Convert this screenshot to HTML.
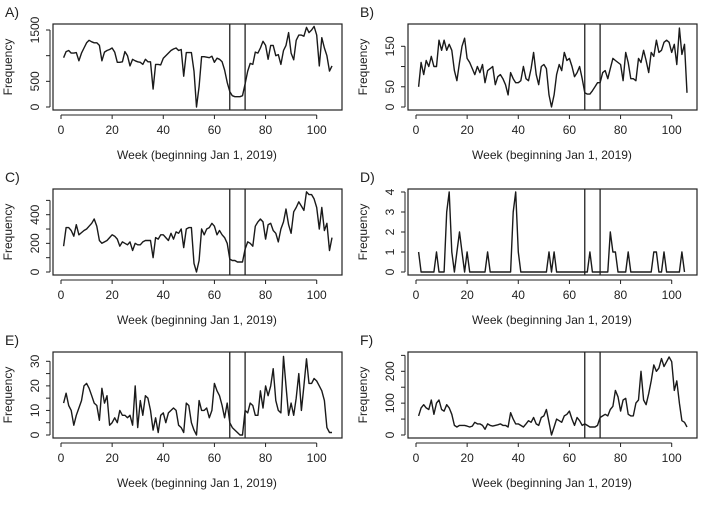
<!DOCTYPE html>
<html><head><meta charset="utf-8"><style>
body{margin:0;background:#fff}
svg{display:block;font-family:"Liberation Sans",Arial,sans-serif}
</style></head><body>
<svg id="chart" width="711" height="506" viewBox="0 0 711 506" xmlns="http://www.w3.org/2000/svg"></svg>
<script>
const weeks = Array.from({length:106},(_,i)=>i+1);
const seriesA=[960,1080,1100,1050,1050,1060,900,1050,1150,1250,1300,1270,1250,1250,1200,900,1070,1100,1120,1150,1070,870,870,880,1080,1000,800,930,900,880,870,830,930,880,880,350,830,830,820,950,1000,1050,1100,1130,1150,1100,1120,600,1060,1060,1060,700,0,400,980,980,970,960,990,870,950,930,880,720,480,300,220,200,200,200,220,450,700,850,830,1070,1050,1150,1280,1200,930,1200,1200,1000,1020,830,1100,1200,1450,1050,920,1300,1400,1400,1380,1550,1450,1500,1570,1400,800,1350,1150,1000,700,800];
const seriesB=[50,110,80,115,100,125,100,100,165,140,165,140,155,140,90,65,110,150,170,120,110,95,80,100,85,105,60,90,95,100,55,75,80,70,55,30,85,70,60,60,65,100,70,65,95,135,80,55,100,105,95,30,0,30,80,105,90,135,115,120,100,75,85,100,70,35,32,32,40,50,60,60,85,90,70,95,120,115,110,105,65,135,110,70,70,65,120,110,140,115,85,135,125,165,135,140,160,165,160,135,155,105,195,130,155,35,65].slice(0,106);
const seriesC=[180,310,310,290,250,330,260,275,290,300,320,340,370,320,220,200,210,220,240,260,250,230,180,210,200,190,210,150,200,190,190,210,220,220,220,100,240,230,260,260,240,220,270,230,280,270,300,170,300,310,310,60,0,80,300,260,300,310,340,320,260,290,260,240,200,90,80,80,70,70,70,160,210,200,180,320,350,370,350,230,330,340,290,270,210,300,350,440,330,270,420,450,490,460,430,560,540,540,510,450,300,450,290,340,150,240];
const seriesD=[1,0,0,0,0,0,0,1,0,0,0,3,4,1,0,1,2,1,0,1,0,0,0,0,0,0,0,1,0,0,0,0,0,0,0,0,0,3,4,1,0,0,0,0,0,0,0,0,0,0,0,1,0,1,0,0,0,0,0,0,0,0,0,0,0,0,0,1,0,0,0,0,0,0,0,2,1,1,0,0,0,0,1,0,0,0,0,0,0,0,0,0,1,1,0,0,1,0,0,0,0,0,0,1,0];
const seriesE=[13,17,12,10,4,8,11,14,20,21,19,16,13,12,6,19,13,16,4,5,7,5,10,8,8,7,8,4,20,3,14,8,16,15,10,2,7,1,8,9,5,9,10,11,10,4,3,1,13,12,5,2,0,14,10,10,11,7,10,21,18,16,12,7,13,5,3,2,1,0,0,10,9,13,12,8,8,18,11,20,16,20,27,14,10,9,32,20,8,13,8,15,25,10,20,31,21,21,23,22,20,18,14,3,1,1];
const seriesF=[60,85,95,85,80,110,65,100,110,80,75,95,85,65,30,25,30,30,30,28,25,28,40,35,35,30,18,35,30,28,30,32,35,30,30,25,70,50,35,35,30,25,35,45,40,55,35,30,55,60,80,40,0,25,50,45,40,60,65,75,50,30,55,45,30,35,30,25,25,25,30,55,60,65,60,80,90,140,120,75,110,115,65,60,60,100,110,200,110,95,130,170,220,200,210,240,215,230,245,230,140,170,100,45,40,25];
const xTicks=[0,20,40,60,80,100];
const markers=[66,72];
const panels=[
 {id:'A',data:seriesA,col:0,row:0,k:77/1500,ticks:[0,500,1000,1500],labels:[0,500,1500]},
 {id:'B',data:seriesB,col:1,row:0,k:60.7/150,ticks:[0,50,100,150],labels:[0,50,150]},
 {id:'C',data:seriesC,col:0,row:1,k:57.3/400,ticks:[0,100,200,300,400,500],labels:[0,200,400]},
 {id:'D',data:seriesD,col:1,row:1,k:80/4,ticks:[0,1,2,3,4],labels:[0,1,2,3,4]},
 {id:'E',data:seriesE,col:0,row:2,k:73.7/30,ticks:[0,5,10,15,20,25,30],labels:[0,10,20,30]},
 {id:'F',data:seriesF,col:1,row:2,k:63.7/200,ticks:[0,50,100,150,200,250],labels:[0,100,200]}
];
const svg=document.getElementById('chart');
const NS='http://www.w3.org/2000/svg';
function el(tag,attrs,parent){const e=document.createElementNS(NS,tag);for(const k in attrs)e.setAttribute(k,attrs[k]);parent.appendChild(e);return e;}
const rowOff=[0,165,328];
panels.forEach(p=>{
  const ox=p.col===0?0:355, oy=rowOff[p.row];
  const g=el('g',{},svg);
  
  
  const bx0=ox+53,bx1=ox+342,by0=oy+24,by1=oy+110;
  const y0=oy+107;
  const xs=w=>ox+61+w*2.557;
  const ys=v=>y0-v*p.k;
  const lab=el('text',{x:ox+5,y:oy+17,'font-size':14,fill:'#222'},g);lab.textContent=p.id+')';
  
  const box=el('rect',{x:bx0,y:by0,width:bx1-bx0,height:by1-by0,fill:'none',stroke:'#222','stroke-width':1.2},g);
  
  const xa=el('g',{},g);
  el('line',{x1:xs(0),x2:xs(100),y1:oy+115,y2:oy+115,stroke:'#222'},xa);
  xTicks.forEach(t=>{el('line',{x1:xs(t),x2:xs(t),y1:oy+115,y2:oy+119,stroke:'#222'},xa);
    const tx=el('text',{x:xs(t),y:oy+134,'font-size':12,'text-anchor':'middle',fill:'#222'},xa);tx.textContent=t;});
  const xt=el('text',{x:ox+197,y:oy+159,'font-size':12,'text-anchor':'middle',fill:'#222'},g);
  xt.textContent='Week (beginning Jan 1, 2019)';
  
  const ya=el('g',{},g);
  const tmax=p.ticks[p.ticks.length-1];
  el('line',{x1:ox+50,x2:ox+50,y1:ys(0),y2:ys(tmax),stroke:'#222'},ya);
  p.ticks.forEach(t=>{el('line',{x1:ox+46,x2:ox+50,y1:ys(t),y2:ys(t),stroke:'#222'},ya);});
  p.labels.forEach(t=>{const tx=el('text',{x:ox+39,y:ys(t),'font-size':12,'text-anchor':'middle',fill:'#222',transform:`rotate(-90 ${ox+39} ${ys(t)})`},ya);tx.textContent=t;});
  const yt=el('text',{x:ox+12,y:oy+67,'font-size':12,'text-anchor':'middle',fill:'#222',transform:`rotate(-90 ${ox+12} ${oy+67})`},g);
  yt.textContent='Frequency';
  
  markers.forEach(m=>{const l=el('line',{x1:xs(m),x2:xs(m),y1:by0,y2:by1,stroke:'#222','stroke-width':1.3},g);
    });
  const pts=p.data.map((v,i)=>xs(weeks[i]).toFixed(1)+','+ys(v).toFixed(1)).join(' ');
  const pl=el('polyline',{points:pts,fill:'none',stroke:'#1a1a1a','stroke-width':1.4,'stroke-linejoin':'round'},g);
  
});
</script>
</body></html>
